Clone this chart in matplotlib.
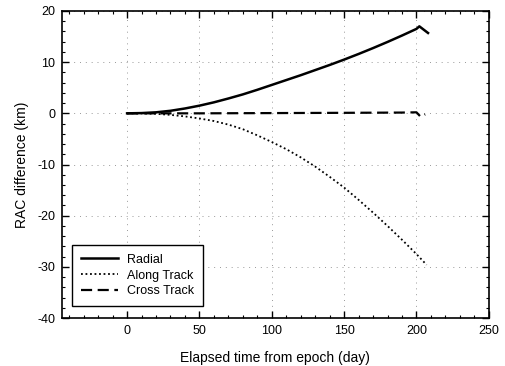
import matplotlib
matplotlib.use("Agg")
import matplotlib.pyplot as plt
from matplotlib.ticker import MultipleLocator

plt.rcParams['font.family'] = ['Liberation Sans', 'DejaVu Sans']
plt.rcParams['axes.unicode_minus'] = False

days = [0, 10, 20, 30, 40, 50, 60, 70, 80, 90, 100, 110, 120, 130, 140, 150,
        160, 170, 180, 190, 200, 202, 208]
radial = [0, 0.05, 0.2, 0.5, 0.95, 1.5, 2.15, 2.9, 3.7, 4.6, 5.55, 6.5, 7.45,
          8.45, 9.45, 10.5, 11.6, 12.75, 13.95, 15.2, 16.5, 17.0, 15.7]
along_days = [0, 10, 20, 30, 40, 50, 60, 70, 80, 90, 100, 110, 120, 130, 140,
              150, 160, 170, 180, 190, 200, 207]
along = [0, -0.02, -0.1, -0.3, -0.6, -1.0, -1.5, -2.2, -3.1, -4.3, -5.6, -7.0,
         -8.6, -10.4, -12.4, -14.5, -16.9, -19.4, -22.0, -24.7, -27.5, -29.6]
cross_days = [0, 50, 100, 150, 190, 200, 203, 206]
cross = [0, 0, 0.05, 0.1, 0.15, 0.2, -0.7, -0.2]

fig = plt.figure(figsize=(5.06, 3.66), dpi=100)
ax = fig.add_axes([0.1225, 0.131, 0.8435, 0.839])

ax.plot(days, radial, color='black', lw=1.8, ls='-', label='Radial')
ax.plot(along_days, along, color='black', lw=1.3, ls=(0, (1, 1.5)), label='Along Track')
ax.plot(cross_days, cross, color='black', lw=1.6, ls=(0, (5, 2.5)), label='Cross Track')

ax.set_xlim(-45, 250)
ax.set_ylim(-40, 20)
ax.xaxis.set_major_locator(MultipleLocator(50))
ax.xaxis.set_minor_locator(MultipleLocator(10))
ax.yaxis.set_major_locator(MultipleLocator(10))
ax.yaxis.set_minor_locator(MultipleLocator(2))
ax.tick_params(which='both', direction='in', top=True, right=True, labelsize=9)
ax.tick_params(which='major', length=5, width=1, pad=5)
ax.tick_params(which='minor', length=2.5, width=0.8)
ax.grid(True, which='major', color='#999999', ls=(0, (1, 5)), lw=0.7)
for s in ax.spines.values():
    s.set_linewidth(1.2)

ax.set_xlabel('Elapsed time from epoch (day)', fontsize=10, labelpad=10)
ax.set_ylabel('RAC difference (km)', fontsize=10, labelpad=6)

leg = ax.legend(loc='lower left', bbox_to_anchor=(0.023, 0.039), borderaxespad=0,
                fontsize=9, frameon=True, fancybox=False, edgecolor='black',
                framealpha=1, handlelength=3.0, handletextpad=0.7,
                borderpad=0.7, labelspacing=0.3)
leg.get_frame().set_linewidth(1.0)

fig.savefig('out.png', dpi=100)
